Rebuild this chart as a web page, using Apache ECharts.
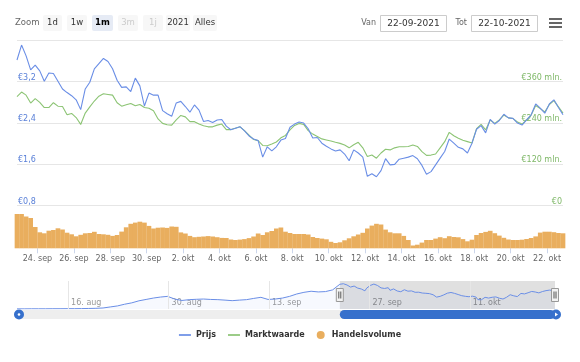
<!DOCTYPE html>
<html><head><meta charset="utf-8">
<script src="https://cdn.jsdelivr.net/npm/echarts@6/dist/echarts.min.js"></script>
<style>html,body{margin:0;padding:0;background:#fff}#main{width:580px;height:362px}</style>
</head><body><div id="main"></div>
<script>
// ---- data ----
const startTime = '2021-09-22T21:00:00Z';
const stepHours = 6;
const prices = [
 3.62,3.91,3.70,3.43,3.52,3.41,3.21,3.37,3.36,3.21,
 3.06,2.99,2.93,2.85,2.66,3.06,3.19,3.45,3.55,3.65,
 3.59,3.45,3.23,3.09,3.10,3.01,3.27,3.12,2.73,2.98,
 2.94,2.94,2.64,2.58,2.53,2.79,2.82,2.72,2.61,2.75,
 2.65,2.43,2.45,2.41,2.46,2.47,2.34,2.27,2.30,2.33,
 2.25,2.15,2.09,2.06,1.74,1.94,1.86,1.94,2.07,2.10,
 2.32,2.38,2.42,2.40,2.29,2.11,2.12,2.01,1.95,1.90,
 1.86,1.88,1.80,1.67,1.88,1.82,1.74,1.37,1.42,1.36,
 1.48,1.71,1.59,1.60,1.70,1.72,1.74,1.77,1.71,1.58,
 1.41,1.46,1.59,1.72,1.85,2.09,2.01,1.93,1.90,1.82,
 2.01,2.28,2.35,2.21,2.47,2.38,2.45,2.57,2.50,2.49,
 2.40,2.36,2.46,2.56,2.77,2.69,2.59,2.77,2.85,2.70,
 2.56];
const marketCaps = [
 317,330,321,298,311,300,285,285,299,289,
 288,264,268,256,236,269,287,304,318,325,
 323,321,299,289,293,297,290,294,285,283,
 276,252,239,235,234,249,262,258,244,244,
 237,232,229,229,234,237,221,221,225,229,
 218,205,192,189,175,174,179,185,197,204,
 220,233,239,236,218,208,201,194,191,188,
 184,181,176,168,177,184,168,143,147,138,
 153,164,162,168,171,171,172,176,172,157,
 146,147,150,168,186,213,203,196,190,186,
 182,224,236,220,249,239,249,263,255,253,
 243,237,249,263,291,282,272,294,305,287,
 269];
const volumes = [
 68.6,68.6,63.6,60.6,42.6,32,30,35.2,36.6,40,
 37.6,31.2,28,24,27,30,30.6,33,28.6,28,
 27,24.8,26.6,33.4,42,49,51.4,53.2,51.4,44.8,
 39.6,41.2,41.6,40.8,43.6,43,31.8,29.6,24.8,22.2,
 23,23.6,24.4,23.6,22.2,20.8,20.6,17.6,16.6,17.4,
 18.4,20.4,23.6,29.6,26.6,32,34.6,39.6,41.6,33.2,
 30.6,28.6,28.6,28.6,27.6,22.6,20.6,19.4,18,13,
 10.6,12,16,20,24,27.6,31,39.6,45.4,49,
 47.6,37.4,32,30,30,24.8,16.6,5.6,7.2,11.4,
 16.6,16.6,19.4,22.2,20.2,24.2,22.6,22,18.4,14,
 17.2,26.6,30.6,32.8,35,30.2,25.4,21,17.6,16.6,
 16.6,17.2,18.6,20.6,23.8,31.4,33.2,33.2,32.2,30.6,
 30];
const navStartTime = '2021-08-08T21:00:00Z';
const navStepHours = 24;
const navEarlyPrices = [
 0.02,0.02,0.03,0.03,0.03,0.04,0.04,0.05,0.05,0.06,
 0.08,0.10,0.15,0.30,0.45,0.70,0.90,1.20,1.40,1.60,
 1.75,1.85,1.45,1.25,1.37,1.42,1.46,1.40,1.37,1.30,
 1.22,1.30,1.37,1.55,1.71,1.40,1.46,1.60,1.85,2.20,
 2.44,2.60,2.50,2.55,2.80];
const mainTickDates = ['2021-09-24','2021-09-26','2021-09-28','2021-09-30','2021-10-02','2021-10-04','2021-10-06','2021-10-08','2021-10-10','2021-10-12','2021-10-14','2021-10-16','2021-10-18','2021-10-20','2021-10-22'];
const mainTickLabels = ['24. sep','26. sep','28. sep','30. sep','2. okt','4. okt','6. okt','8. okt','10. okt','12. okt','14. okt','16. okt','18. okt','20. okt','22. okt'];
const navTickDates = ['2021-08-16','2021-08-30','2021-09-13','2021-09-27','2021-10-11'];
const navTickLabels = ['16. aug','30. aug','13. sep','27. sep','11. okt'];
const priceAxis = {min: 0.8, max: 4.0, interval: 0.8};
const capAxis = {min: 0, max: 480, interval: 120};
const rangeButtons = ['1d','1w','1m','3m','1j','2021','Alles'];
const rangeFrom = '22-09-2021';
const rangeTo = '22-10-2021';
const seriesNames = ['Prijs','Marktwaarde','Handelsvolume'];

// ---- build ----
const BLUE = '#6a8ee6', GREEN = '#8cc474', ORANGE = '#e9ae5e';
const FONT = 'DejaVu Sans';
const H = 3600e3;
const T0 = Date.parse(startTime);
const times = prices.map((_, i) => T0 + i * stepHours * H);
const Tend = times[times.length - 1];
const navStart = Date.parse(navStartTime);
const navData = navEarlyPrices.map((p, i) => [navStart + i * navStepHours * H, p])
  .concat(times.map((t, i) => [t, prices[i]]));
const mainTickVals = mainTickDates.map(d => Date.parse(d));
const navTickVals = navTickDates.map(d => Date.parse(d));
const mainLabelMap = new Map(mainTickVals.map((v, i) => [v, mainTickLabels[i]]));
const navLabelMap = new Map(navTickVals.map((v, i) => [v, navTickLabels[i]]));

const option = {
  animation: false,
  textStyle: {fontFamily: FONT},
  grid: [
    {left: 17, right: 17, top: 40.4, height: 165.3},
    {left: 17, right: 17, top: 206, height: 42.3},
    {left: 17, right: 25, top: 281, height: 28}
  ],
  legend: {
    data: [
      {name: seriesNames[0], icon: 'path://M0 0H14V2H0Z'},
      {name: seriesNames[1], icon: 'path://M0 0H14V2H0Z'},
      {name: seriesNames[2], icon: 'circle'}
    ],
    top: 326, left: 'center', itemWidth: 12, itemHeight: 8, itemGap: 12,
    textStyle: {fontSize: 8, fontWeight: 'bold', color: '#333', fontFamily: FONT}
  },
  xAxis: [
    {gridIndex: 0, type: 'value', min: T0, max: Tend, show: false},
    {gridIndex: 1, type: 'value', min: T0, max: Tend,
     axisLine: {show: false}, splitLine: {show: false},
     axisTick: {show: true, customValues: mainTickVals, length: 5, lineStyle: {color: '#ccd6eb'}},
     axisLabel: {customValues: mainTickVals, formatter: v => mainLabelMap.get(v) || '',
       color: '#666', fontSize: 8, margin: 7, fontFamily: FONT}},
    {gridIndex: 2, type: 'value', min: navStart, max: Tend,
     axisLine: {show: false}, axisTick: {show: false}, splitLine: {show: false},
     axisLabel: {customValues: navTickVals, formatter: v => navLabelMap.get(v) || '',
       inside: true, align: 'left', padding: [0, 0, 0, 3], margin: 2,
       color: '#999', fontSize: 8, fontFamily: FONT}}
  ],
  yAxis: [
    {gridIndex: 0, type: 'value', min: priceAxis.min, max: priceAxis.max, interval: priceAxis.interval,
     position: 'left', axisLine: {show: false}, axisTick: {show: false},
     splitLine: {lineStyle: {color: '#e6e6e6'}},
     axisLabel: {inside: true, margin: 1, showMaxLabel: false, verticalAlign: 'bottom', lineHeight: 8,
       color: '#5a80d8', fontSize: 8, fontFamily: FONT,
       formatter: v => '€' + v.toFixed(1).replace('.', ',')}},
    {gridIndex: 0, type: 'value', min: capAxis.min, max: capAxis.max, interval: capAxis.interval,
     position: 'right', axisLine: {show: false}, axisTick: {show: false}, splitLine: {show: false},
     axisLabel: {inside: true, margin: 1, showMaxLabel: false, verticalAlign: 'bottom', lineHeight: 8,
       color: '#7fb868', fontSize: 8, fontFamily: FONT,
       formatter: v => v === 0 ? '€0' : '€' + v + ' mln.'}},
    {gridIndex: 1, type: 'value', min: 0, max: 84.6, show: false},
    {gridIndex: 2, type: 'value', min: 0, max: 4.1, show: false}
  ],
  series: [
    {name: seriesNames[1], type: 'line', xAxisIndex: 0, yAxisIndex: 1, z: 2,
     data: times.map((t, i) => [t, marketCaps[i]]), symbol: 'none',
     lineStyle: {width: 1.1, color: GREEN}, itemStyle: {color: GREEN}},
    {name: seriesNames[0], type: 'line', xAxisIndex: 0, yAxisIndex: 0, z: 3,
     data: times.map((t, i) => [t, prices[i]]), symbol: 'none',
     lineStyle: {width: 1.1, color: BLUE}, itemStyle: {color: BLUE}},
    {name: seriesNames[2], type: 'bar', xAxisIndex: 1, yAxisIndex: 2,
     data: times.map((t, i) => [t, volumes[i]]), barWidth: 4.7,
     itemStyle: {color: ORANGE}},
    {name: 'navigator', type: 'line', xAxisIndex: 2, yAxisIndex: 3, silent: true,
     data: navData, symbol: 'none',
     lineStyle: {width: 1, color: BLUE}, itemStyle: {color: BLUE},
     areaStyle: {color: 'rgba(106,142,230,0.07)'},
     markLine: {silent: true, symbol: 'none', label: {show: false},
       lineStyle: {color: '#e6e6e6', width: 1, type: 'solid'},
       data: navTickVals.map(v => ({xAxis: v}))},
     markArea: {silent: true, itemStyle: {color: 'rgba(0,0,0,0.12)'},
       data: [[{xAxis: T0}, {xAxis: Tend}]]}}
  ]
};

const chart = echarts.init(document.getElementById('main'), null, {renderer: 'canvas'});
chart.setOption(option);

// ---- chrome: range selector, date inputs, menu, navigator handles, scrollbar ----
const g = [];
g.push({type: 'text', left: 15, top: 18, style: {text: 'Zoom', fontSize: 8.5, fill: '#666', fontFamily: FONT}});
const btnX = [[43,19],[67,20],[92,21],[118,20],[143,20],[166,24],[193,24]];
rangeButtons.forEach((b, i) => {
  const sel = b === '1m';
  const dis = b === '3m' || b === '1j';
  g.push({type: 'rect', shape: {x: btnX[i][0], y: 15, width: btnX[i][1], height: 16, r: 2},
    style: {fill: sel ? '#e6ebf5' : '#f7f7f7'}});
  g.push({type: 'text', x: btnX[i][0] + btnX[i][1] / 2, y: 23,
    style: {text: b, fontSize: 8.5, fontFamily: FONT, fontWeight: sel ? 'bold' : 'normal',
      fill: dis ? '#cccccc' : (sel ? '#000' : '#333'), align: 'center', verticalAlign: 'middle'}});
});
g.push({type: 'text', x: 376, y: 23, style: {text: 'Van', fontSize: 8, fill: '#666', fontFamily: FONT, align: 'right', verticalAlign: 'middle'}});
g.push({type: 'rect', shape: {x: 380.5, y: 15.5, width: 66, height: 16}, style: {fill: '#fff', stroke: '#cccccc', lineWidth: 1}});
g.push({type: 'text', x: 413.5, y: 23.5, style: {text: rangeFrom, fontSize: 9, fill: '#333', fontFamily: FONT, align: 'center', verticalAlign: 'middle'}});
g.push({type: 'text', x: 467, y: 23, style: {text: 'Tot', fontSize: 8, fill: '#666', fontFamily: FONT, align: 'right', verticalAlign: 'middle'}});
g.push({type: 'rect', shape: {x: 471.5, y: 15.5, width: 66, height: 16}, style: {fill: '#fff', stroke: '#cccccc', lineWidth: 1}});
g.push({type: 'text', x: 504.5, y: 23.5, style: {text: rangeTo, fontSize: 9, fill: '#333', fontFamily: FONT, align: 'center', verticalAlign: 'middle'}});
[18, 22, 26].forEach(y => g.push({type: 'rect', shape: {x: 549, y: y, width: 13, height: 2}, style: {fill: '#666'}}));

const xL = chart.convertToPixel({xAxisIndex: 2}, T0);
const xR = chart.convertToPixel({xAxisIndex: 2}, Tend);
const SB = '#3670cc';
g.push({type: 'rect', shape: {x: 19, y: 310, width: 537, height: 9}, style: {fill: '#eeeeee'}});
g.push({type: 'rect', shape: {x: xL, y: 310, width: xR - xL, height: 9, r: 4.5}, style: {fill: SB}});
g.push({type: 'circle', shape: {cx: 19, cy: 314.5, r: 5}, style: {fill: SB}});
g.push({type: 'circle', shape: {cx: 19, cy: 314.5, r: 1.3}, style: {fill: '#fff'}});
g.push({type: 'circle', shape: {cx: 556, cy: 314.5, r: 5}, style: {fill: SB}});
g.push({type: 'polygon', shape: {points: [[555, 312.5], [558, 314.5], [555, 316.5]]}, style: {fill: '#fff'}});
[xL, xR].forEach(x => {
  g.push({type: 'rect', z: 20, shape: {x: x - 3.5, y: 288.5, width: 7, height: 13}, style: {fill: '#f2f2f2', stroke: '#999', lineWidth: 1}});
  g.push({type: 'line', z: 21, shape: {x1: x - 1, y1: 291.5, x2: x - 1, y2: 298.5}, style: {stroke: '#555', lineWidth: 1}});
  g.push({type: 'line', z: 21, shape: {x1: x + 1, y1: 291.5, x2: x + 1, y2: 298.5}, style: {stroke: '#555', lineWidth: 1}});
});
chart.setOption({graphic: g});
</script>
</body></html>
